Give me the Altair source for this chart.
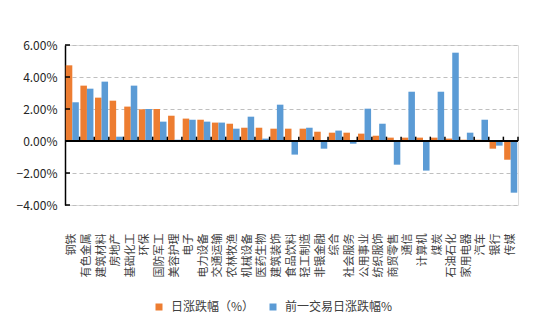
import altair as alt
import pandas as pd

categories = ["钢铁", "有色金属", "建筑材料", "房地产", "基础化工", "环保", "国防军工", "美容护理",
              "电子", "电力设备", "交通运输", "农林牧渔", "机械设备", "医药生物", "建筑装饰", "食品饮料",
              "轻工制造", "非银金融", "综合", "社会服务", "公用事业", "纺织服饰", "商贸零售", "通信",
              "计算机", "煤炭", "石油石化", "家用电器", "汽车", "银行", "传媒"]
today = [4.73, 3.46, 2.71, 2.52, 2.15, 1.98, 2.00, 1.58,
         1.40, 1.33, 1.15, 1.08, 0.83, 0.83, 0.77, 0.77,
         0.77, 0.58, 0.52, 0.52, 0.46, 0.33, 0.21, 0.21,
         0.21, 0.21, 0.15, 0.08, 0.08, -0.48, -1.17]
prev = [2.42, 3.27, 3.71, 0.27, 3.46, 2.00, 1.21, 0.08,
        1.33, 1.21, 1.15, 0.77, 1.52, 0.15, 2.27, -0.85,
        0.83, -0.48, 0.65, -0.17, 2.02, 1.08, -1.48, 3.08,
        -1.85, 3.08, 5.52, 0.52, 1.33, -0.29, -3.23]
series_names = ["日涨跌幅（%）", "前一交易日涨跌幅%"]
y_ticks = [-4, -2, 0, 2, 4, 6]

rows = []
for c, a, b in zip(categories, today, prev):
    rows.append({"category": c, "series": series_names[0], "value": a})
    rows.append({"category": c, "series": series_names[1], "value": b})
df = pd.DataFrame(rows)
cat_df = pd.DataFrame({"category": categories})
tick_df = pd.DataFrame({"value": y_ticks})

FONT = "Noto Sans CJK SC"
y_scale = alt.Scale(domain=[-4, 6], nice=False, zero=False)
x_scale = alt.Scale(paddingInner=0, paddingOuter=0)

x_axis = alt.Axis(title=None, labelAngle=-90, labelPadding=28, ticks=False,
                  domain=False, labelFont=FONT, labelFontSize=11,
                  labelColor="#404040", grid=False, labelOverlap=False)
y_axis = alt.Axis(title=None, values=y_ticks, tickCount=6,
                  labelExpr="format(datum.value, '.2f') + '%'",
                  labelFont=FONT, labelFontSize=12, labelColor="#262626",
                  domainColor="#000000", domainWidth=1.5, ticks=False,
                  labelPadding=8, grid=True, gridColor="#BFBFBF",
                  gridDash=[4, 3], gridWidth=1, labelOverlap=False)

bars = alt.Chart(df).mark_bar().encode(
    x=alt.X("category:N", sort=categories, scale=x_scale, axis=x_axis),
    xOffset=alt.XOffset("series:N", sort=series_names,
                        scale=alt.Scale(paddingOuter=0.12, paddingInner=0)),
    y=alt.Y("value:Q", scale=y_scale, axis=y_axis),
    color=alt.Color("series:N", sort=series_names,
                    scale=alt.Scale(domain=series_names, range=["#ED7D31", "#5B9BD5"]),
                    legend=alt.Legend(title=None, orient="none", legendX=88, legendY=256,
                                      direction="horizontal", symbolType="square",
                                      symbolSize=49, symbolStrokeWidth=0,
                                      labelFont=FONT, labelFontSize=12, labelColor="#404040",
                                      columnPadding=12, labelOffset=6)),
)

zero = alt.Chart(cat_df).mark_rule(color="#000000", strokeWidth=2).encode(
    y=alt.YDatum(0, scale=y_scale, axis=y_axis)
)

cat_ticks = alt.Chart(cat_df).mark_rule(color="#000000", strokeWidth=1.5).encode(
    x=alt.X("category:N", sort=categories, bandPosition=1, scale=x_scale, axis=x_axis),
    y=alt.YDatum(0, scale=y_scale, axis=y_axis),
    y2=alt.Y2Datum(0.27),
)

y_tick_marks = alt.Chart(tick_df).mark_rule(color="#000000", strokeWidth=1.5).encode(
    y=alt.Y("value:Q", scale=y_scale, axis=y_axis),
    x=alt.value(0),
    x2=alt.value(5),
)

chart = alt.layer(bars, zero, cat_ticks, y_tick_marks).properties(
    width=453, height=160,
    autosize=alt.AutoSizeParams(type="none"),
    padding={"left": 65, "top": 45, "right": 19, "bottom": 117},
).configure_view(stroke=None).configure(background="white")

chart.save("out.html", embed_options={"renderer": "svg", "actions": False})
